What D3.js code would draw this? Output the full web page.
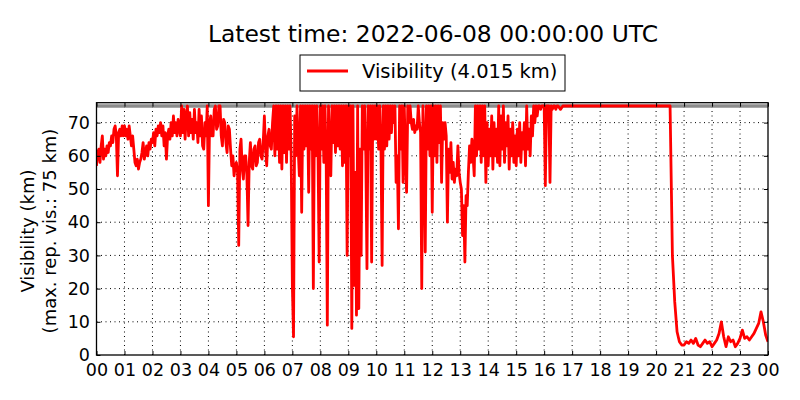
<!DOCTYPE html>
<html lang="en">
<head>
<meta charset="utf-8">
<script src="https://d3js.org/d3.v7.min.js"></script>
<style>
  body { margin: 0; background: #fff; }
  svg text { font-family: "DejaVu Sans", sans-serif; fill: #000; }
</style>
</head>
<body>
<script>
// chart data
const title = "Latest time: 2022-06-08 00:00:00 UTC";
const hourLabels = ["00","01","02","03","04","05","06","07","08","09","10","11",
                    "12","13","14","15","16","17","18","19","20","21","22","23","00"];
const yTicks = [0, 10, 20, 30, 40, 50, 60, 70];
const maxReported = 75;   // km, max. reported visibility
const latestVis = 4.015;  // km

// 00:00-03:57.5, every 2.5 min (km)
const earlyStart = 0, earlyStep = 2.5;
const visEarly = [
  57, 61, 62, 58, 63, 66, 59, 62, 60, 63, 61, 64, 63, 66, 64, 68, 69, 66, 54, 67, 68, 66, 69, 66,
  69, 66, 68, 65, 69, 66, 63, 66, 62, 58, 57, 59, 56, 58, 59, 61, 64, 59, 61, 63, 60, 64, 62, 65,
  64, 67, 63, 68, 66, 69, 67, 70, 66, 69, 63, 67, 59, 66, 68, 65, 70, 66, 72, 67, 70, 66, 71, 68,
  66, 75, 67, 74, 65, 72, 75, 66, 73, 67, 71, 65, 74, 67, 70, 64, 74, 66, 72, 63, 62, 70, 66, 75
];

// 04:00-16:27.5, every 2.5 min (km) - the noisy part
const denseStart = 240, denseStep = 2.5;
const visDense = [
  45, 70, 72, 66, 66, 74, 75, 68, 69, 75, 75, 66, 63, 71, 70, 64, 61, 69, 68, 62, 57, 60, 54, 57,
  58, 55, 33, 62, 65, 56, 53, 60, 60, 54, 39, 58, 64, 57, 56, 62, 63, 57, 58, 64, 65, 60, 59, 64,
  72, 62, 57, 66, 68, 63, 62, 70, 75, 60, 75, 62, 75, 58, 75, 56, 75, 61, 75, 58, 75, 62, 75, 60,
  21, 5.5, 72, 60, 75, 62, 54, 75, 43, 75, 62, 75, 63, 75, 49, 75, 62, 75, 20, 75, 60, 75, 61, 28,
  75, 62, 75, 58, 75, 60, 9, 75, 63, 54, 75, 64, 75, 61, 75, 63, 75, 62, 75, 57, 75, 58, 75, 30,
  75, 60, 75, 8, 75, 21, 55, 12, 75, 14, 62, 30, 75, 62, 75, 60, 26, 75, 62, 75, 28, 75, 65, 75,
  65, 75, 62, 75, 63, 27, 75, 62, 75, 63, 75, 65, 75, 67, 75, 70, 75, 52, 60, 38, 75, 62, 75, 52,
  75, 60, 49, 75, 70, 75, 70, 68, 71, 67, 69, 68, 75, 70, 67, 20, 75, 65, 31, 75, 62, 75, 60, 75,
  43, 75, 60, 75, 58, 75, 64, 75, 52, 70, 65, 70, 66, 40, 62, 55, 64, 53, 58, 52, 56, 54, 63, 55,
  52, 50, 36, 45, 28, 48, 45, 55, 63, 58, 65, 60, 54, 75, 60, 75, 62, 75, 58, 75, 60, 75, 52, 70,
  57, 68, 60, 72, 56, 70, 60, 68, 58, 75, 57, 72, 62, 75, 58, 70, 63, 72, 56, 68, 60, 70, 58, 66,
  57, 68, 60, 70, 58, 67, 62, 70, 57, 75, 62, 68, 60, 72, 66, 75, 70, 75, 72, 75, 75, 74, 75, 75,
  75, 51, 75, 75, 75, 52, 75, 74, 75, 75, 74, 75
];

// 16:30-24:00, every 5 min (km)
const lateStart = 990, lateStep = 5;
const visLate = [
  75, 74, 75, 75, 75, 75,
  75, 75, 75, 75, 75, 75, 75, 75, 75, 75, 75, 75,
  75, 75, 75, 75, 75, 75, 75, 75, 75, 75, 75, 75,
  75, 75, 75, 75, 75, 75, 75, 75, 75, 75, 75, 75,
  75, 75, 75, 75, 75, 75, 75, 30, 16, 7, 4, 3,
  3, 4, 3.5, 4.5, 3.5, 5, 3, 2.5, 3.5, 4.5, 3.5, 4,
  2.5, 3.5, 4.5, 6.5, 10, 5.5, 2.5, 5.5, 4, 4.5, 2.5, 3.5,
  5, 7.5, 5, 5.5, 4.5, 5.5, 6.5, 8, 9.5, 13, 10, 6,
  latestVis
];

const width = 800, height = 400;
const plotLeft = 96.5, plotRight = 768, plotTop = 102.7, plotBottom = 355;

// minutes after 00:00 for every value
const series = [].concat(
  visEarly.map((v, i) => ({t: earlyStart + i * earlyStep, v: v})),
  visDense.map((v, i) => ({t: denseStart + i * denseStep, v: v})),
  visLate.map((v, i) => ({t: lateStart + i * lateStep, v: v}))
);

const svg = d3.select("body").append("svg")
  .attr("width", width)
  .attr("height", height);

const x = d3.scaleLinear().domain([0, 24 * 60]).range([plotLeft, plotRight]);
const y = d3.scaleLinear().domain([0, 76]).range([plotBottom, plotTop]);

const hourTicks = hourLabels.map((d, i) => i * 60);

// dotted grid
const grid = svg.append("g")
  .attr("stroke", "#000")
  .attr("stroke-width", 1)
  .attr("stroke-dasharray", "1,3.5");
grid.selectAll("line.v")
  .data(hourTicks.slice(1, -1))
  .enter().append("line")
  .attr("x1", d => x(d)).attr("x2", d => x(d))
  .attr("y1", plotBottom).attr("y2", plotTop);
grid.selectAll("line.h")
  .data(yTicks.slice(1))
  .enter().append("line")
  .attr("x1", plotLeft).attr("x2", plotRight)
  .attr("y1", d => y(d)).attr("y2", d => y(d));

// max reported visibility line
svg.append("line")
  .attr("x1", plotLeft).attr("x2", plotRight)
  .attr("y1", y(maxReported)).attr("y2", y(maxReported))
  .attr("stroke", "#8c8c8c")
  .attr("stroke-width", 3.5);

svg.append("clipPath").attr("id", "plot")
  .append("rect")
  .attr("x", plotLeft).attr("y", plotTop)
  .attr("width", plotRight - plotLeft).attr("height", plotBottom - plotTop);

const line = d3.line()
  .x(d => x(d.t))
  .y(d => y(d.v));

svg.append("path")
  .datum(series)
  .attr("clip-path", "url(#plot)")
  .attr("fill", "none")
  .attr("stroke", "#ff0000")
  .attr("stroke-width", 2.8)
  .attr("stroke-linejoin", "round")
  .attr("d", line);

// axes, ticks pointing inward
const xAxis = d3.axisBottom(x)
  .tickValues(hourTicks)
  .tickFormat((d, i) => hourLabels[i])
  .tickSize(-4)
  .tickPadding(8.5);
svg.append("g")
  .attr("transform", "translate(0," + plotBottom + ")")
  .call(xAxis)
  .call(g => g.select(".domain").remove())
  .selectAll("text").attr("font-size", 17.5).attr("font-family", "DejaVu Sans");

svg.append("g")
  .attr("transform", "translate(0," + plotTop + ")")
  .call(d3.axisTop(x).tickValues(hourTicks).tickFormat("").tickSize(-4))
  .call(g => g.select(".domain").remove());

const yAxis = d3.axisLeft(y)
  .tickValues(yTicks)
  .tickFormat(d3.format("d"))
  .tickSize(-4)
  .tickPadding(6.5);
svg.append("g")
  .attr("transform", "translate(" + plotLeft + ",0)")
  .call(yAxis)
  .call(g => g.select(".domain").remove())
  .selectAll("text").attr("font-size", 17.5).attr("font-family", "DejaVu Sans");

svg.append("g")
  .attr("transform", "translate(" + plotRight + ",0)")
  .call(d3.axisRight(y).tickValues(yTicks).tickFormat("").tickSize(-4))
  .call(g => g.select(".domain").remove());

// frame
svg.append("rect")
  .attr("x", plotLeft).attr("y", plotTop)
  .attr("width", plotRight - plotLeft).attr("height", plotBottom - plotTop)
  .attr("fill", "none")
  .attr("stroke", "#000")
  .attr("stroke-width", 1.3);

// y label, two lines
const ylab = svg.append("g")
  .attr("transform", "translate(0,231) rotate(-90)")
  .attr("text-anchor", "middle")
  .attr("font-size", 18);
ylab.append("text").attr("y", 34).text("Visibility (km)");
ylab.append("text").attr("y", 55.5).text("(max. rep. vis.: " + maxReported + " km)");

// title
svg.append("text")
  .attr("x", 433).attr("y", 42)
  .attr("text-anchor", "middle")
  .attr("font-size", 23.4)
  .text(title);

// legend
const legend = svg.append("g");
legend.append("rect")
  .attr("x", 300).attr("y", 55)
  .attr("width", 265).attr("height", 36)
  .attr("fill", "#fff")
  .attr("stroke", "#000")
  .attr("stroke-width", 1);
legend.append("line")
  .attr("x1", 307).attr("x2", 348)
  .attr("y1", 71).attr("y2", 71)
  .attr("stroke", "#ff0000")
  .attr("stroke-width", 2.8);
legend.append("text")
  .attr("x", 362).attr("y", 77.5)
  .attr("font-size", 19.5)
  .text("Visibility (" + latestVis.toFixed(3) + " km)");
</script>
</body>
</html>
